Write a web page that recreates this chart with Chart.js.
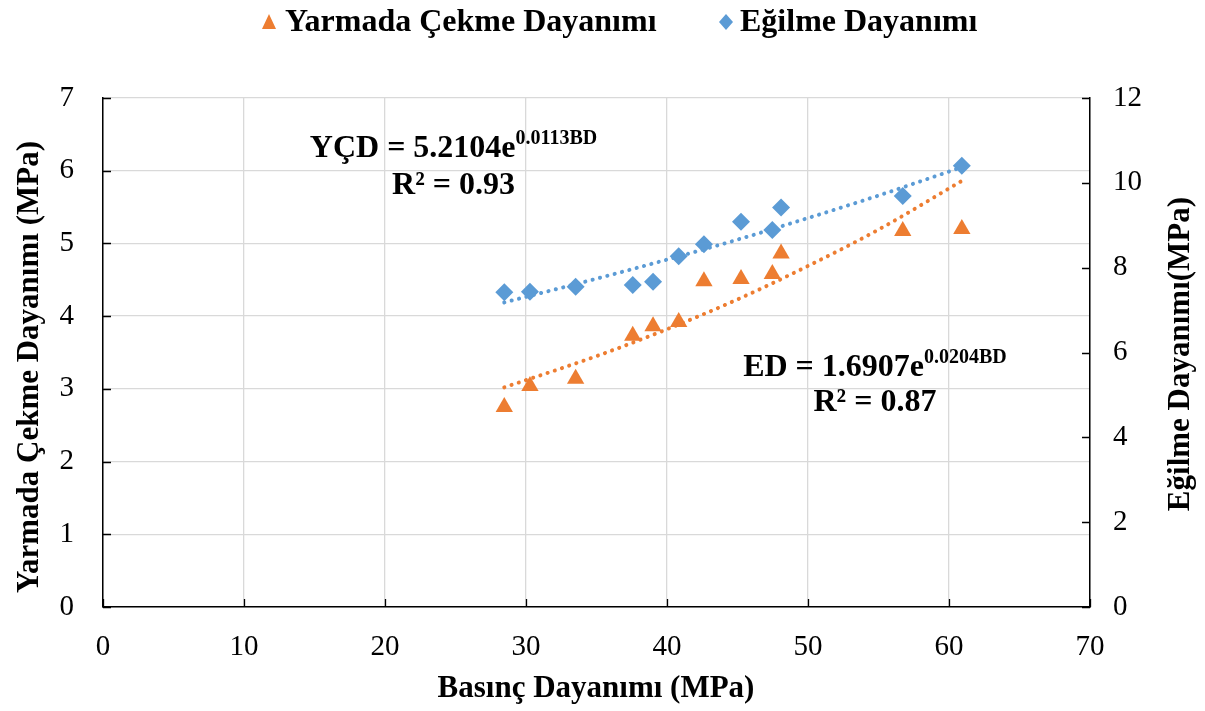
<!DOCTYPE html>
<html>
<head>
<meta charset="utf-8">
<script src="https://cdn.jsdelivr.net/npm/chart.js@4/dist/chart.umd.min.js"></script>
<style>
    html, body { margin: 0; padding: 0; background: #fff; }
    #wrap { width: 1205px; height: 711px; position: relative; }
</style>
</head>
<body>
<div id="wrap"><canvas id="chart"></canvas></div>
<script>
// Basınç dayanımı (x), shared by both series
const basinc = [28.46, 30.28, 33.52, 37.57, 39.01, 40.83, 42.62, 45.25, 47.47, 48.09, 56.72, 60.91];
// Yarmada çekme dayanımı (left axis)
const yarmada = [2.75, 3.04, 3.14, 3.73, 3.86, 3.92, 4.48, 4.51, 4.58, 4.86, 5.17, 5.20];
// Eğilme dayanımı (right axis)
const egilme = [7.42, 7.43, 7.55, 7.59, 7.67, 8.27, 8.55, 9.08, 8.89, 9.42, 9.69, 10.40];

// Trendline readings (dotted curves)
const trendX = [28.46, 35, 40, 45, 50, 55, 60.91];
const trendYarmada = [3.02, 3.45, 3.82, 4.23, 4.69, 5.19, 5.86];
const trendEgilme = [7.18, 7.74, 8.19, 8.66, 9.17, 9.70, 10.37];

const xTicks = [0, 10, 20, 30, 40, 50, 60, 70];
const leftTicks = [0, 1, 2, 3, 4, 5, 6, 7];
const rightTicks = [0, 2, 4, 6, 8, 10, 12];

const ORANGE = '#ED7D31';
const BLUE = '#5B9BD5';
const SERIF = "'Liberation Serif', 'Times New Roman', serif";

const toPoints = (xs, ys) => xs.map((x, i) => ({ x: x, y: ys[i] }));

// Equation labels, placed in data coords of x / left y
const equations = [
    { x: 24.86, y: 6.19, main: 'YÇD = 5.2104e', sup: '0.0113BD', r2: 'R² = 0.93', y2: 5.68 },
    { x: 54.75, y: 3.18, main: 'ED = 1.6907e', sup: '0.0204BD', r2: 'R² = 0.87', y2: 2.69 }
];

const decorPlugin = {
    id: 'decor',
    afterDraw(chart) {
        const ctx = chart.ctx;
        const xs = chart.scales.x;
        const yl = chart.scales.y;
        const yr = chart.scales.y2;
        const area = chart.chartArea;

        ctx.save();
        // inside tick marks
        ctx.strokeStyle = '#000';
        ctx.lineWidth = 1.3;
        ctx.beginPath();
        leftTicks.forEach(v => {
            const py = Math.round(yl.getPixelForValue(v)) + 0.5;
            ctx.moveTo(area.left, py);
            ctx.lineTo(area.left + 8, py);
        });
        rightTicks.forEach(v => {
            const py = Math.round(yr.getPixelForValue(v)) + 0.5;
            ctx.moveTo(area.right, py);
            ctx.lineTo(area.right - 8, py);
        });
        xTicks.forEach(v => {
            const px = Math.round(xs.getPixelForValue(v)) + 0.5;
            ctx.moveTo(px, area.bottom);
            ctx.lineTo(px, area.bottom - 8);
        });
        ctx.stroke();

        // axis titles
        ctx.fillStyle = '#000';
        ctx.font = 'bold 31px ' + SERIF;
        ctx.textAlign = 'center';
        ctx.textBaseline = 'middle';
        ctx.fillText('Basınç Dayanımı (MPa)', 596, 689);

        ctx.save();
        ctx.translate(30, 367);
        ctx.rotate(-Math.PI / 2);
        ctx.fillText('Yarmada Çekme Dayanımı (MPa)', 0, 0);
        ctx.restore();

        ctx.save();
        ctx.translate(1181, 354);
        ctx.rotate(-Math.PI / 2);
        ctx.fillText('Eğilme Dayanımı(MPa)', 0, 0);
        ctx.restore();

        // equations
        ctx.textAlign = 'left';
        ctx.textBaseline = 'alphabetic';
        equations.forEach(eq => {
            const cx = xs.getPixelForValue(eq.x);
            ctx.font = 'bold 32px ' + SERIF;
            const wMain = ctx.measureText(eq.main).width;
            ctx.font = 'bold 20px ' + SERIF;
            const wSup = ctx.measureText(eq.sup).width;
            const start = cx - (wMain + wSup) / 2;
            const base = yl.getPixelForValue(eq.y);
            ctx.font = 'bold 32px ' + SERIF;
            ctx.fillText(eq.main, start, base);
            ctx.font = 'bold 20px ' + SERIF;
            ctx.fillText(eq.sup, start + wMain, base - 13);
            ctx.font = 'bold 32px ' + SERIF;
            ctx.textAlign = 'center';
            ctx.fillText(eq.r2, cx, yl.getPixelForValue(eq.y2));
            ctx.textAlign = 'left';
        });

        // legend
        ctx.font = 'bold 32px ' + SERIF;
        ctx.textAlign = 'left';
        ctx.textBaseline = 'middle';
        ctx.fillStyle = ORANGE;
        ctx.beginPath();
        ctx.moveTo(269, 14);
        ctx.lineTo(276, 29);
        ctx.lineTo(262, 29);
        ctx.closePath();
        ctx.fill();
        ctx.fillStyle = '#000';
        ctx.fillText('Yarmada Çekme Dayanımı', 285, 23);

        ctx.fillStyle = BLUE;
        ctx.beginPath();
        ctx.moveTo(726, 14);
        ctx.lineTo(733, 22);
        ctx.lineTo(726, 30);
        ctx.lineTo(719, 22);
        ctx.closePath();
        ctx.fill();
        ctx.fillStyle = '#000';
        ctx.fillText('Eğilme Dayanımı', 740, 23);
        ctx.restore();
    }
};

const ctx = document.getElementById('chart').getContext('2d');
const chart = new Chart(ctx, {
    type: 'scatter',
    data: {
        datasets: [
            {
                label: 'Yarmada trend',
                data: toPoints(trendX, trendYarmada),
                yAxisID: 'y',
                showLine: true,
                borderColor: ORANGE,
                borderWidth: 4,
                borderDash: [0.1, 7.5],
                borderCapStyle: 'round',
                pointRadius: 0,
                cubicInterpolationMode: 'monotone',
                order: 0
            },
            {
                label: 'Eğilme trend',
                data: toPoints(trendX, trendEgilme),
                yAxisID: 'y2',
                showLine: true,
                borderColor: BLUE,
                borderWidth: 4,
                borderDash: [0.1, 7.5],
                borderCapStyle: 'round',
                pointRadius: 0,
                cubicInterpolationMode: 'monotone',
                order: 0
            },
            {
                label: 'Yarmada Çekme Dayanımı',
                data: toPoints(basinc, yarmada),
                yAxisID: 'y',
                pointStyle: 'triangle',
                pointRadius: 10,
                backgroundColor: ORANGE,
                borderColor: ORANGE,
                borderWidth: 0,
                order: 1
            },
            {
                label: 'Eğilme Dayanımı',
                data: toPoints(basinc, egilme),
                yAxisID: 'y2',
                pointStyle: 'rectRot',
                pointRadius: 9,
                backgroundColor: BLUE,
                borderColor: BLUE,
                borderWidth: 0,
                order: 1
            }
        ]
    },
    options: {
        responsive: true,
        maintainAspectRatio: false,
        animation: false,
        layout: { padding: { top: 98, left: 0, right: 0, bottom: 0 } },
        plugins: {
            legend: { display: false },
            tooltip: { enabled: false }
        },
        scales: {
            x: {
                type: 'linear',
                min: 0,
                max: 70,
                afterBuildTicks: s => { s.ticks = xTicks.map(v => ({ value: v })); },
                afterFit: s => { s.height = 104; },
                grid: { color: '#d9d9d9', lineWidth: 1.3, drawTicks: false },
                border: { color: '#000', width: 1.5 },
                ticks: {
                    color: '#000',
                    padding: 23,
                    maxRotation: 0,
                    font: { family: SERIF, size: 29 }
                }
            },
            y: {
                type: 'linear',
                position: 'left',
                min: 0,
                max: 7,
                afterBuildTicks: s => { s.ticks = leftTicks.map(v => ({ value: v })); },
                afterFit: s => { s.width = 103; },
                grid: { color: '#d9d9d9', lineWidth: 1.3, drawTicks: false },
                border: { color: '#000', width: 1.5 },
                ticks: {
                    color: '#000',
                    padding: 29,
                    font: { family: SERIF, size: 29 }
                }
            },
            y2: {
                type: 'linear',
                position: 'right',
                min: 0,
                max: 12,
                afterBuildTicks: s => { s.ticks = rightTicks.map(v => ({ value: v })); },
                afterFit: s => { s.width = 115; },
                grid: { display: false, drawTicks: false },
                border: { color: '#000', width: 1.5 },
                ticks: {
                    color: '#000',
                    padding: 23,
                    font: { family: SERIF, size: 29 }
                }
            }
        }
    },
    plugins: [decorPlugin]
});
</script>
</body>
</html>
